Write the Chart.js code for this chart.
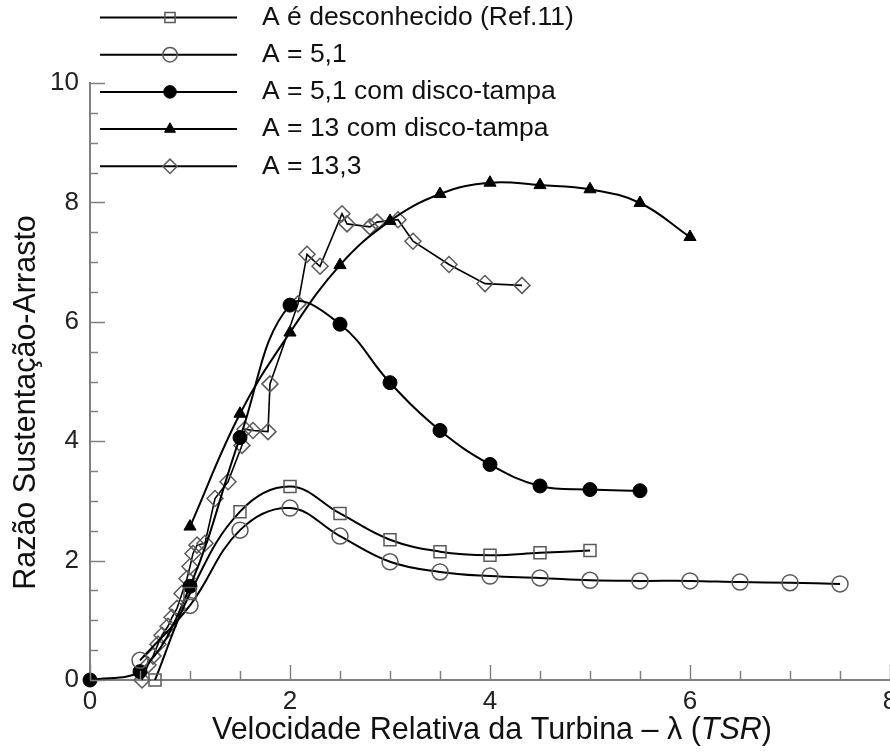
<!DOCTYPE html>
<html>
<head>
<meta charset="utf-8">
<script src="https://cdn.jsdelivr.net/npm/chart.js@4.4.1/dist/chart.umd.min.js"></script>
<style>
  html, body { margin: 0; padding: 0; background: #fff; }
  #wrap { width: 890px; height: 753px; }
</style>
</head>
<body>
<div id="wrap"><canvas id="c" width="890" height="753"></canvas></div>
<script>
// Tip speed ratio (λ) and lift-to-drag ratio for each rotor configuration
const lambdaRef11 = [0.65, 1.0, 1.5, 2.0, 2.5, 3.0, 3.5, 4.0, 4.5, 5.0];
const ratioRef11  = [0.0, 1.45, 2.82, 3.24, 2.79, 2.35, 2.15, 2.09, 2.13, 2.17];

const lambdaA51 = [0.5, 1.0, 1.5, 2.0, 2.5, 3.0, 3.5, 4.0, 4.5, 5.0, 5.5, 6.0, 6.5, 7.0, 7.5];
const ratioA51  = [0.33, 1.25, 2.51, 2.88, 2.41, 1.98, 1.81, 1.74, 1.71, 1.67, 1.66, 1.66, 1.64, 1.63, 1.61];

const lambdaA51Disc = [0, 0.5, 1.0, 1.5, 2.0, 2.5, 3.0, 3.5, 4.0, 4.5, 5.0, 5.5];
const ratioA51Disc  = [0, 0.14, 1.57, 4.06, 6.28, 5.96, 4.98, 4.18, 3.61, 3.25, 3.19, 3.17];

const lambdaA13Disc = [1.0, 1.5, 2.0, 2.5, 3.0, 3.5, 4.0, 4.5, 5.0, 5.5, 6.0];
const ratioA13Disc  = [2.57, 4.46, 5.82, 6.95, 7.69, 8.14, 8.33, 8.29, 8.22, 7.99, 7.42];

const lambdaA133 = [0.52, 0.58, 0.63, 0.68, 0.72, 0.78, 0.82, 0.87, 0.92, 0.97, 1.0, 1.03, 1.07, 1.15,
                    1.25, 1.38, 1.52, 1.55, 1.63, 1.78, 1.8, 2.08, 2.17, 2.3, 2.52, 2.57, 2.8, 2.87,
                    3.08, 3.23, 3.59, 3.95, 4.32];
const ratioA133  = [0.0, 0.25, 0.4, 0.6, 0.75, 0.9, 1.05, 1.2, 1.45, 1.7, 1.9, 2.12, 2.26, 2.29,
                    3.04, 3.32, 3.93, 4.2, 4.18, 4.16, 4.96, 6.3, 7.13, 6.93, 7.81, 7.64, 7.59, 7.67,
                    7.71, 7.35, 6.96, 6.64, 6.61];

const seriesLabels = [
  'A é desconhecido (Ref.11)',
  'A = 5,1',
  'A = 5,1 com disco-tampa',
  'A = 13 com disco-tampa',
  'A = 13,3'
];

// x title is set in three runs so that the abbreviation is italic
const xTitleParts = [
  { text: 'Velocidade Relativa da Turbina – λ (', italic: false },
  { text: 'TSR', italic: true },
  { text: ')', italic: false }
];
const yTitle = 'Razão Sustentação-Arrasto';
const xRange = [0, 8];
const yRange = [0, 10];

const FONT = '"Liberation Sans", Arial, sans-serif';
const AXIS_GREY = '#808080';
const MARK_GREY = '#5a5a5a';

function pairs(xs, ys) { return xs.map((x, i) => ({ x: x, y: ys[i] })); }

const datasets = [
  { label: seriesLabels[0], data: pairs(lambdaRef11, ratioRef11), tension: 0.4,
    borderColor: '#000', borderWidth: 2, pointStyle: 'rect', pointRadius: 8.5,
    pointBorderColor: MARK_GREY, pointBorderWidth: 1.5, pointBackgroundColor: 'rgba(0,0,0,0)' },
  { label: seriesLabels[1], data: pairs(lambdaA51, ratioA51), tension: 0.4,
    borderColor: '#000', borderWidth: 2, pointStyle: 'circle', pointRadius: 8,
    pointBorderColor: MARK_GREY, pointBorderWidth: 1.5, pointBackgroundColor: 'rgba(0,0,0,0)' },
  { label: seriesLabels[2], data: pairs(lambdaA51Disc, ratioA51Disc), tension: 0.4,
    borderColor: '#000', borderWidth: 2, pointStyle: 'circle', pointRadius: 7,
    pointBorderColor: '#000', pointBorderWidth: 1, pointBackgroundColor: '#000' },
  { label: seriesLabels[3], data: pairs(lambdaA13Disc, ratioA13Disc), tension: 0.4,
    borderColor: '#000', borderWidth: 2, pointStyle: 'triangle', pointRadius: 7,
    pointBorderColor: '#000', pointBorderWidth: 1, pointBackgroundColor: '#000' },
  { label: seriesLabels[4], data: pairs(lambdaA133, ratioA133), tension: 0,
    borderColor: '#000', borderWidth: 1.6, pointStyle: 'rectRot', pointRadius: 8,
    pointBorderColor: MARK_GREY, pointBorderWidth: 1.5, pointBackgroundColor: 'rgba(0,0,0,0)' }
];
datasets.forEach(d => { d.showLine = true; d.clip = false; d.fill = false; });

// Inward tick marks: long at even values, short every 0.5
const inwardTicks = {
  id: 'inwardTicks',
  afterDatasetsDraw(chart) {
    const ctx = chart.ctx, xs = chart.scales.x, ys = chart.scales.y;
    const area = chart.chartArea;
    ctx.save();
    ctx.strokeStyle = AXIS_GREY;
    ctx.lineWidth = 1.5;
    for (let v = xRange[0]; v <= xRange[1] + 1e-9; v += 0.5) {
      const px = Math.round(xs.getPixelForValue(v)) + 0.5;
      const len = (Math.abs(v % 2) < 1e-9) ? 15 : 9;
      ctx.beginPath(); ctx.moveTo(px, area.bottom); ctx.lineTo(px, area.bottom - len); ctx.stroke();
    }
    for (let v = yRange[0]; v <= yRange[1] + 1e-9; v += 0.5) {
      const py = Math.round(ys.getPixelForValue(v)) + 0.5;
      const len = (Math.abs(v % 2) < 1e-9) ? 15 : 8;
      ctx.beginPath(); ctx.moveTo(area.left, py); ctx.lineTo(area.left + len, py); ctx.stroke();
    }
    ctx.restore();
  }
};

// Axis titles, placed relative to the plot area
const axisTitles = {
  id: 'axisTitles',
  afterDraw(chart) {
    const ctx = chart.ctx, area = chart.chartArea;
    ctx.save();
    ctx.fillStyle = '#111';
    ctx.textBaseline = 'middle';
    // x title
    const size = 30.5;
    const fontOf = p => (p.italic ? 'italic ' : '') + size + 'px ' + FONT;
    let total = 0;
    xTitleParts.forEach(p => { ctx.font = fontOf(p); total += ctx.measureText(p.text).width; });
    let x = (area.left + area.right) / 2 + 2 - total / 2;
    const y = area.bottom + 51;
    ctx.textAlign = 'left';
    xTitleParts.forEach(p => { ctx.font = fontOf(p); ctx.fillText(p.text, x, y); x += ctx.measureText(p.text).width; });
    // y title
    ctx.translate(27, (area.top + area.bottom) / 2 + 21);
    ctx.rotate(-Math.PI / 2);
    ctx.textAlign = 'center';
    ctx.font = size + 'px ' + FONT;
    ctx.fillText(yTitle, 0, 0);
    ctx.restore();
  }
};

// Legend: a short line with the series marker in its middle, label to the right
const lineLegend = {
  id: 'lineLegend',
  afterDraw(chart) {
    const ctx = chart.ctx;
    const x0 = 100, x1 = 237, xm = 170, xt = 262, y0 = 17.5, dy = 37.2;
    ctx.save();
    chart.data.datasets.forEach((ds, i) => {
      const y = y0 + i * dy;
      ctx.strokeStyle = '#000';
      ctx.lineWidth = 2;
      ctx.beginPath(); ctx.moveTo(x0, y); ctx.lineTo(x1, y); ctx.stroke();
      ctx.fillStyle = ds.pointBackgroundColor;
      ctx.strokeStyle = ds.pointBorderColor;
      ctx.lineWidth = ds.pointBorderWidth;
      const r = ds.pointStyle === 'rect' ? ds.pointRadius * 0.85 : ds.pointRadius * 0.9;
      Chart.helpers.drawPoint(ctx, { pointStyle: ds.pointStyle, radius: r, rotation: 0, borderWidth: ds.pointBorderWidth }, xm, y);
      ctx.fillStyle = '#111';
      ctx.font = '26.5px ' + FONT;
      ctx.textBaseline = 'middle';
      ctx.textAlign = 'left';
      ctx.fillText(ds.label, xt, y);
    });
    ctx.restore();
  }
};

new Chart(document.getElementById('c'), {
  type: 'scatter',
  data: { datasets: datasets },
  plugins: [inwardTicks, axisTitles, lineLegend],
  options: {
    responsive: false,
    animation: false,
    devicePixelRatio: 1,
    layout: { autoPadding: false, padding: { top: 83, right: 0, left: 0, bottom: 0 } },
    plugins: { legend: { display: false }, tooltip: { enabled: false } },
    scales: {
      x: {
        type: 'linear', min: xRange[0], max: xRange[1],
        grid: { display: false, drawTicks: false },
        border: { display: true, color: AXIS_GREY, width: 2 },
        ticks: { stepSize: 2, padding: 6, color: '#222', font: { family: FONT, size: 26 } },
        afterFit(s) { s.height = 73; s.paddingLeft = 0; s.paddingRight = 0; }
      },
      y: {
        type: 'linear', min: yRange[0], max: yRange[1],
        grid: { display: false, drawTicks: false },
        border: { display: true, color: AXIS_GREY, width: 2 },
        ticks: { stepSize: 2, padding: 11, color: '#222', font: { family: FONT, size: 26 } },
        afterFit(s) { s.width = 90; s.paddingTop = 0; s.paddingBottom = 0; }
      }
    }
  }
});
</script>
</body>
</html>
